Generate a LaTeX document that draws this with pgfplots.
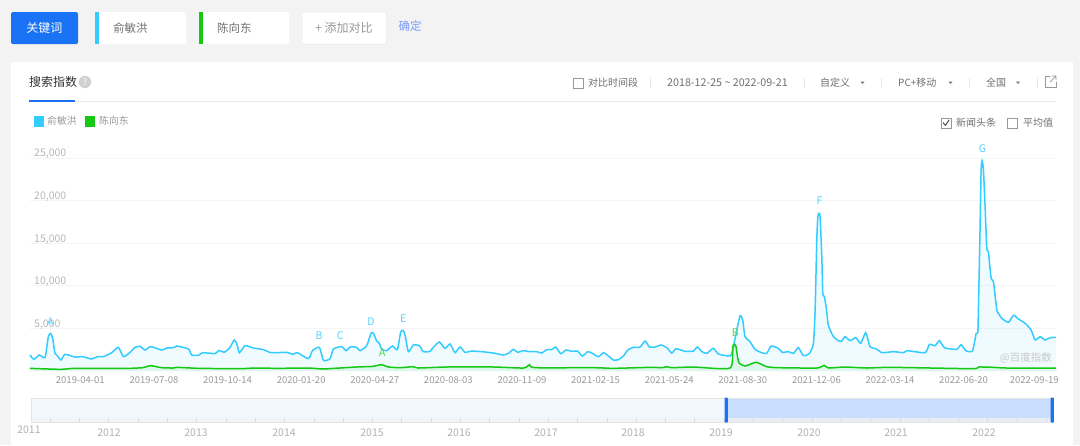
\documentclass[border=0pt]{standalone}
\usepackage{fontspec}
\usepackage{pgfplots}
\usepackage{pgfplotstable}
\pgfplotsset{compat=1.18}
\setmainfont{Noto Sans CJK SC}
\definecolor{pagebg}{HTML}{F3F3F3}
\definecolor{baiduBlue}{HTML}{1A73F5}
\definecolor{seriesA}{HTML}{33CCFF}
\definecolor{seriesB}{HTML}{14C814}
\definecolor{txt}{HTML}{707070}
\definecolor{txtlight}{HTML}{999999}
\definecolor{sep}{HTML}{E8E8E8}
\definecolor{boxline}{HTML}{9A9A9A}
\newcommand{\fs}[1]{\fontsize{#1}{#1}\selectfont}

\pgfplotstableread{
d v
0 1879
5.3 1370
12.4 1879
20 1605
24.4 4031
27.5 4422
30.2 3835
33.3 2074
36.4 1800
41.3 1292
46.6 1957
60 1644
70.2 1683
82.1 1409
89.7 1683
97.7 1683
108.8 2152
117.7 2779
124.3 1683
133.2 2192
139.9 2779
146.5 2896
153.2 2465
160.7 2857
175.4 2465
182 2700
190.9 2739
195.3 2935
210.9 2583
215.3 1879
224.2 1839
230 2152
246.4 2035
251.7 2426
258.4 2192
266.4 2779
271.7 3639
275.2 3248
278.8 2152
286.3 2974
297.4 2700
310.8 2505
321 2152
341.8 2192
349.8 1957
356 2152
370.7 1448
376 2387
385.3 2779
390.7 1253
399.5 1448
404 2583
415 2857
420.8 2387
426.2 2818
435 2779
439.4 2387
448.3 2974
454 4422
457.2 4422
461.6 3522
465.1 3248
468.3 2544
474.9 2387
482.5 2935
489.1 2505
493.6 4618
497.1 4735
499.8 4031
503.8 2270
510.4 3052
518.4 2974
523.7 2270
532.6 2309
537 2779
545 3405
552.6 2661
559.3 3170
565.9 2152
572.6 2818
579.2 2192
588.1 2348
605.9 2231
619.2 2074
630.3 1879
637 2074
643.6 2544
649.4 2192
656.9 2387
665.8 2270
674.7 2270
681.3 2113
688 2505
694.6 2505
700 2818
706.6 2035
713.7 2465
721.3 2309
728.8 2348
735.5 1761
742.6 2270
748.8 2074
756.8 1683
763.5 2152
770.1 1761
776.8 1292
783.4 1331
790.1 1761
795.9 2465
803.4 2779
812.3 2818
819 3522
824.7 2818
832.3 2818
840.2 3052
847.8 2739
854.5 2113
860.2 2622
872.2 2309
883.3 2348
888.6 2818
894.4 2270
901.1 2074
909.9 2661
916.5 1996
932 1761
935.6 2465
941 4813
945.4 6496
948.9 5987
952 4031
958.7 3444
965.3 2544
974.2 2152
980.9 2074
986.7 2935
996.4 2661
1001.7 2192
1009.7 2270
1016.4 2074
1023 2739
1029.7 1800
1037.7 2074
1043 3248
1045.3 7161
1047.5 15379
1048.9 18115
1050.6 18514
1051.9 18115
1054.2 13419
1055.5 9157
1057.7 8723
1060.5 7161
1062.5 5500
1064.3 5009
1069.7 4031
1076.3 3561
1080.8 3522
1085.2 4031
1091.9 3561
1099.4 3913
1106 3248
1112.7 4500
1118.5 2857
1127.4 2583
1134 2152
1149.6 2270
1162.9 2152
1168.2 2387
1191.7 2152
1197.5 3131
1205 2974
1210.8 3561
1217.5 2739
1233.9 2544
1239.7 3092
1245.9 2387
1254.8 2348
1259.7 4422
1261.9 4500
1262.7 7161
1265 17340
1266.3 23597
1267.6 24690
1269.4 23597
1271.6 19289
1273.9 14405
1276 14006
1279.6 10883
1282.7 10484
1287.2 7161
1289.4 6770
1293.8 6183
1302.7 5713
1309.4 6535
1316 6105
1324.9 5596
1332.9 4813
1338.2 3639
1344.9 4031
1351.5 3639
1358.2 3913
1366 3952
}\minhong

\pgfplotstableread{
d v
0 313
41 196
60 313
130 313
150 391
160.7 626
175 391
190 352
196 430
225 313
280 274
300 352
330 313
370 352
390 235
405 313
435 470
448 509
457 548
468.3 744
477 470
493 391
510 509
517 352
555 470
617 470
657 352
665 744
672 391
750 391
777 313
826 430
842 391
847 509
855 391
883 470
932 352
935.6 2857
937.8 3131
940 2857
942.3 1487
944.5 900
952 587
966.7 1018
980.9 509
996 391
1047.5 352
1057.2 665
1063 352
1085 470
1114 352
1147 430
1254 274
1263 470
1283 430
1300 352
1366 352
}\xiangdong

\begin{document}
\begin{tikzpicture}[x=1pt,y=-1pt,line cap=round,
  lbl/.style={inner sep=0pt,font=\fs{10},text=txt}]
% page and panel
\fill[pagebg] (0,0) rectangle (1080,445);
\fill[white] (11,62) rectangle (1073,445);

% keyword row
\fill[baiduBlue,rounded corners=1.5pt] (11,12) rectangle (78,44);
\node[inner sep=0pt,text=white,font=\fs{12}] at (44.5,28) {关键词};
\fill[white,rounded corners=1.5pt] (95,12) rectangle (186,44);
\fill[seriesA] (95,12) rectangle (98.5,44);
\node[inner sep=0pt,text=txt,font=\fs{11.5},anchor=west] at (113,28) {俞敏洪};
\fill[white,rounded corners=1.5pt] (199,12) rectangle (289,44);
\fill[seriesB] (199,12) rectangle (202.5,44);
\node[inner sep=0pt,text=txt,font=\fs{11.5},anchor=west] at (217,28) {陈向东};
\fill[white,rounded corners=1.5pt] (302,12) rectangle (386,44);
\draw[sep,line width=.5pt,rounded corners=1.5pt] (302,12) rectangle (386,44);
\node[inner sep=0pt,text=txtlight,font=\fs{12}] at (344,28) {+ 添加对比};
\definecolor{okblue}{HTML}{7C9BF7}
\node[inner sep=0pt,text=okblue,font=\fs{11.5}] at (410,26.5) {确定};

% header
\node[inner sep=0pt,anchor=west,text=black!80,font=\fs{12}] at (29,82) {搜索指数};
\fill[black!18] (85,82) circle (6.2);
\node[inner sep=0pt,text=white,font=\fs{9}] at (85,82) {?};
\draw[sep,line width=.7pt] (29,101.5) -- (1056,101.5);
\fill[baiduBlue] (29,100) rectangle (75,102);

\draw[boxline,line width=.6pt] (573,78) rectangle (583,88);
\node[lbl,anchor=west] at (588,83) {对比时间段};
\draw[sep,line width=.6pt] (650,78) -- (650,88);
\node[lbl,anchor=west,font=\fs{10.7}] at (667,83) {2018-12-25 \string~ 2022-09-21};
\draw[sep,line width=.6pt] (804,78) -- (804,88);
\node[lbl,anchor=west] at (820,83) {自定义};
\fill[txt] (860.5,81.5) -- (864.5,81.5) -- (862.5,84) -- cycle;
\draw[sep,line width=.6pt] (881,78) -- (881,88);
\node[lbl,anchor=west] at (898,83) {PC+移动};
\fill[txt] (948.5,81.5) -- (952.5,81.5) -- (950.5,84) -- cycle;
\draw[sep,line width=.6pt] (969,78) -- (969,88);
\node[lbl,anchor=west] at (986,83) {全国};
\fill[txt] (1016,81.5) -- (1020,81.5) -- (1018,84) -- cycle;
\draw[sep,line width=.6pt] (1037,78) -- (1037,88);
\draw[txtlight,line width=.7pt] (1050,76.5) -- (1045.5,76.5) -- (1045.5,87.5) -- (1056,87.5) -- (1056,82);
\draw[txtlight,line width=.7pt] (1050,82) -- (1056,76) (1052.5,76) -- (1056,76) -- (1056,79.5);

% legend row
\fill[seriesA] (33.5,116) rectangle (43.5,126.5);
\node[lbl,anchor=west,font=\fs{9.8},text=txtlight] at (47,120.5) {俞敏洪};
\fill[seriesB] (85,116) rectangle (95,126.5);
\node[lbl,anchor=west,font=\fs{9.8},text=txtlight] at (99,120.5) {陈向东};

\draw[boxline,line width=.6pt] (941,118) rectangle (951,128);
\draw[black!75,line width=.9pt] (943.2,122.8) -- (945.5,125.3) -- (949,120);
\node[lbl,anchor=west] at (956,123) {新闻头条};
\draw[boxline,line width=.6pt] (1007.5,118) rectangle (1017.5,128);
\node[lbl,anchor=west] at (1023,123) {平均值};

\begin{axis}[
  at={(30pt,-371pt)},anchor=south west,
  scale only axis,width=1026pt,height=213pt,
  xmin=0,xmax=1366,ymin=0,ymax=25000,
  clip=false,
  axis line style={draw=none},
  major tick length=0pt,
  scaled ticks=false,
  ytick={5000,10000,15000,20000,25000},
  yticklabels={5{,}000,10{,}000,15{,}000,20{,}000,25{,}000},
  ymajorgrids,
  grid style={color=black!4,line width=.7pt},
  xtick={67,165,263,361,459,557,655,753,851,949,1047,1145,1243,1337},
  xticklabels={2019-04-01,2019-07-08,2019-10-14,2020-01-20,2020-04-27,2020-08-03,2020-11-09,2021-02-15,2021-05-24,2021-08-30,2021-12-06,2022-03-14,2022-06-20,2022-09-19},
  xticklabel style={font=\fs{9.5},text=txtlight,inner sep=0pt,yshift=-5pt},
  yticklabel style={font=\fs{10.5},text=black!28,anchor=south west,inner sep=0pt,xshift=4pt,yshift=-1pt},
  every axis plot/.style={smooth,tension=0.35},
]
\addplot[draw=none,fill=seriesA,fill opacity=.08] table[x=d,y=v] {\minhong} \closedcycle;
\addplot[draw=none,fill=seriesB,fill opacity=.08] table[x=d,y=v] {\xiangdong} \closedcycle;
\addplot[seriesA,line width=1.5pt] table[x=d,y=v] {\minhong};
\addplot[seriesB,line width=1.5pt] table[x=d,y=v] {\xiangdong};
% news markers
\begin{scope}[every node/.style={inner sep=0pt,font=\fs{10.5},text=seriesA!85!white}]
\node at (axis cs:27,5753) {A};
\node at (axis cs:385,4109) {B};
\node at (axis cs:413,4109) {C};
\node at (axis cs:454,5753) {D};
\node at (axis cs:497,6105) {E};
\node at (axis cs:1051,19958) {F};
\node at (axis cs:1268,26063) {G};
\end{scope}
\begin{scope}[every node/.style={inner sep=0pt,font=\fs{10.5},text=seriesB!75!white}]
\node at (axis cs:469,2113) {A};
\node at (axis cs:939,4461) {B};
\end{scope}
\node[inner sep=0pt,font=\fs{10.5},text=black!22] at (axis cs:1326,1530) {@百度指数};
\end{axis}

% overview slider
\definecolor{slideL}{HTML}{F3F8FE}
\definecolor{slideS}{HTML}{C9DDFC}
\fill[slideL] (31,398) rectangle (726,422);
\fill[slideS] (726,398) rectangle (1052,422);
\fill[black!5,opacity=.8] (31,418) rectangle (1052,422);
\draw[black!10,line width=.7pt] (31,398) rectangle (1053,422);
\foreach \t in {0,...,34}{\draw[black!16,line width=.4pt] ({50+\t*29.3},422) -- ({50+\t*29.3},419);}
\fill[baiduBlue,rounded corners=.8pt] (724.5,397.5) rectangle (727.8,422.5);
\fill[baiduBlue,rounded corners=.8pt] (1050.5,397.5) rectangle (1053.8,422.5);
\begin{scope}[every node/.style={inner sep=0pt,font=\fs{10.5},text=black!30}]
\node at (29,430) {2011};
\node at (109,433) {2012};
\node at (196,433) {2013};
\node at (284,433) {2014};
\node at (372,433) {2015};
\node at (459,433) {2016};
\node at (546,433) {2017};
\node at (633,433) {2018};
\node at (721,433) {2019};
\node at (809,433) {2020};
\node at (896,433) {2021};
\node at (984,433) {2022};
\end{scope}
\useasboundingbox (0,0) rectangle (1080,445);
\end{tikzpicture}
\end{document}
